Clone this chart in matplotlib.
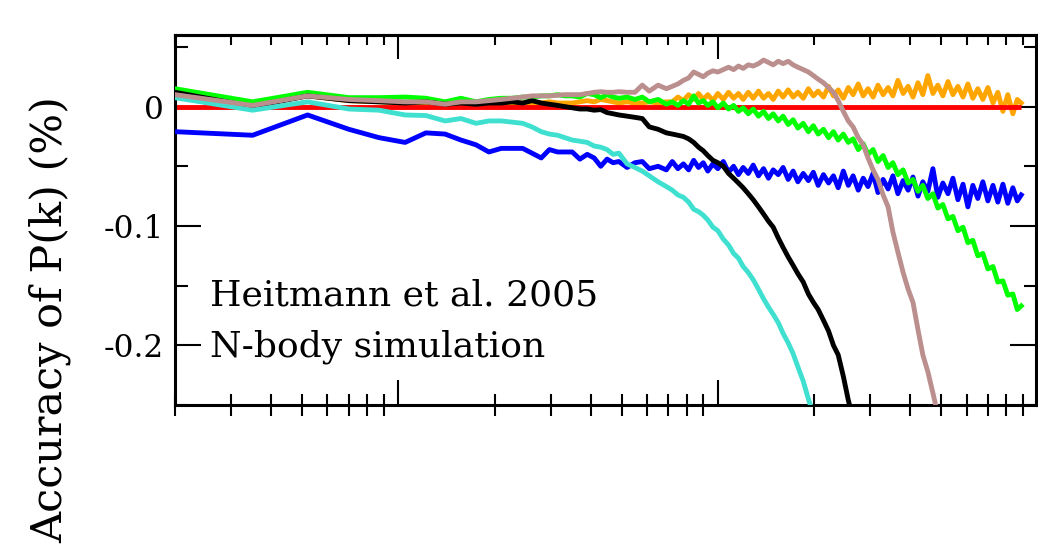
import matplotlib
matplotlib.use("Agg")
import matplotlib.pyplot as plt
from matplotlib.ticker import MultipleLocator, LogLocator, NullFormatter
import numpy as np

plt.rcParams["font.family"] = ["DejaVu Serif"]

# k grid (h/Mpc): sparse bins at low k, finer at high k
k = [0.02, 0.035, 0.052, 0.07, 0.087, 0.105, 0.122, 0.14, 0.157, 0.175,
     0.192, 0.21, 0.227, 0.245, 0.262, 0.28, 0.297, 0.315, 0.332, 0.35,
     0.37, 0.39, 0.41, 0.43, 0.45, 0.47, 0.49, 0.52, 0.55, 0.58,
     0.61, 0.65, 0.69,
     0.72, 0.75, 0.78, 0.81, 0.84, 0.87, 0.9, 0.93, 0.965, 1.0,
     1.04, 1.08, 1.12, 1.16, 1.2, 1.245, 1.29, 1.34, 1.39, 1.44,
     1.49, 1.545, 1.6, 1.66, 1.72, 1.78, 1.85, 1.92, 1.99, 2.06,
     2.14, 2.22, 2.3, 2.38, 2.47, 2.56, 2.65, 2.75, 2.85, 2.95,
     3.06, 3.17, 3.29, 3.41, 3.53, 3.66, 3.8, 3.94, 4.08, 4.23,
     4.38, 4.54, 4.71, 4.88, 5.06, 5.25, 5.44, 5.64, 5.85, 6.06,
     6.28, 6.51, 6.75, 7.0, 7.26, 7.52, 7.8, 8.08, 8.38, 8.65,
     8.9]

orange = [0.0125, 0.002, 0.009, 0.005, 0.004, 0.003, 0.003, 0.002, 0.003, 0.002,
          0.002, 0.002, 0.002, 0.003, 0.003, 0.003, 0.004, 0.003, 0.003, 0.003,
          0.004, 0.005, 0.004, 0.006, 0.005, 0.004, 0.003, 0.004, 0.003, 0.003,
          0.004, 0.003, 0.004,
          0.004, 0.008, 0.005, 0.010, 0.006, 0.011, 0.006, 0.010, 0.005, 0.011,
          0.006, 0.012, 0.007, 0.011, 0.006, 0.012, 0.007, 0.013, 0.007, 0.011,
          0.006, 0.013, 0.008, 0.014, 0.008, 0.012, 0.007, 0.015, 0.009, 0.013,
          0.008, 0.017, 0.009, 0.014, 0.007, 0.016, 0.010, 0.019, 0.009, 0.015,
          0.008, 0.018, 0.010, 0.016, 0.009, 0.022, 0.011, 0.017, 0.008, 0.020,
          0.010, 0.026, 0.011, 0.018, 0.009, 0.021, 0.010, 0.017, 0.008, 0.019,
          0.007, 0.015, 0.006, 0.016, 0.003, 0.012, -0.004, 0.010, -0.006, 0.006,
          0.003]

blue = [-0.021, -0.024, -0.007, -0.019, -0.026, -0.030, -0.022, -0.023, -0.028, -0.032,
        -0.038, -0.035, -0.035, -0.035, -0.039, -0.043, -0.036, -0.038, -0.038, -0.038,
        -0.044, -0.040, -0.043, -0.050, -0.044, -0.047, -0.046, -0.051, -0.047, -0.046,
        -0.052, -0.050, -0.053,
        -0.046, -0.052, -0.048, -0.053, -0.045, -0.051, -0.047, -0.054, -0.048, -0.052,
        -0.046, -0.055, -0.050, -0.057, -0.051, -0.056, -0.049, -0.058, -0.052, -0.060,
        -0.053, -0.057, -0.051, -0.061, -0.054, -0.063, -0.056, -0.062, -0.055, -0.066,
        -0.057, -0.064, -0.058, -0.068, -0.054, -0.066, -0.058, -0.070, -0.060, -0.067,
        -0.056, -0.072, -0.061, -0.069, -0.058, -0.073, -0.062, -0.070, -0.059, -0.075,
        -0.063, -0.071, -0.052, -0.076, -0.064, -0.073, -0.060, -0.078, -0.065, -0.084,
        -0.066, -0.077, -0.063, -0.079, -0.066, -0.080, -0.065, -0.081, -0.068, -0.079,
        -0.074]

green = [0.015, 0.004, 0.012, 0.0075, 0.0075, 0.008, 0.007, 0.004, 0.007, 0.004,
         0.006, 0.007, 0.007, 0.008, 0.008, 0.009, 0.009, 0.010, 0.009, 0.009,
         0.008, 0.011, 0.010, 0.0075, 0.010, 0.008, 0.007, 0.008, 0.006, 0.008,
         0.004, 0.006, 0.002,
         0.004, 0.001, 0.005, 0.002, 0.009, 0.003, 0.005, 0.001, 0.004, -0.001,
         0.003, -0.002, 0.001, -0.004, -0.001, -0.006, -0.002, -0.008, -0.004, -0.010,
         -0.006, -0.012, -0.008, -0.015, -0.011, -0.018, -0.014, -0.021, -0.016, -0.023,
         -0.019, -0.026, -0.021, -0.028, -0.023, -0.030, -0.027, -0.036, -0.031, -0.040,
         -0.036, -0.046, -0.041, -0.051, -0.047, -0.057, -0.053, -0.064, -0.061, -0.071,
         -0.066, -0.077, -0.073, -0.085, -0.082, -0.094, -0.092, -0.104, -0.101, -0.114,
         -0.112, -0.125, -0.123, -0.136, -0.134, -0.147, -0.146, -0.158, -0.157, -0.170,
         -0.167]

black = [0.012, 0.000, 0.009, 0.005, 0.004, 0.003, 0.004, 0.002, 0.003, 0.002,
         0.003, 0.003, 0.004, 0.003, 0.005, 0.003, 0.002, 0.001, 0.000, -0.001,
         -0.002, -0.002, -0.003, -0.0025, -0.005, -0.006, -0.007, -0.008, -0.009, -0.010,
         -0.017, -0.019, -0.022,
         -0.023, -0.024, -0.025, -0.027, -0.030, -0.034, -0.037, -0.041, -0.045, -0.047,
         -0.050, -0.056, -0.060, -0.064, -0.068, -0.073, -0.078, -0.084, -0.090, -0.096,
         -0.101, -0.110, -0.118, -0.126, -0.133, -0.140, -0.147, -0.157, -0.164, -0.170,
         -0.179, -0.188, -0.200, -0.208, -0.226, -0.246, -0.262]

cyan = [0.0075, -0.003, 0.004, -0.002, -0.003, -0.007, -0.0075, -0.012, -0.010, -0.014,
        -0.012, -0.012, -0.013, -0.014, -0.017, -0.021, -0.023, -0.024, -0.026, -0.028,
        -0.029, -0.030, -0.033, -0.034, -0.036, -0.040, -0.039, -0.048, -0.051, -0.054,
        -0.058, -0.063, -0.067,
        -0.070, -0.074, -0.076, -0.080, -0.086, -0.088, -0.091, -0.095, -0.101, -0.104,
        -0.111, -0.116, -0.123, -0.127, -0.134, -0.139, -0.145, -0.153, -0.161, -0.168,
        -0.174, -0.181, -0.190, -0.198, -0.207, -0.218, -0.230, -0.245, -0.258]

brown = [0.010, 0.001, 0.009, 0.006, 0.005, 0.004, 0.004, 0.002, 0.004, 0.004,
         0.005, 0.006, 0.007, 0.008, 0.009, 0.009, 0.009, 0.0095, 0.010, 0.010,
         0.010, 0.011, 0.012, 0.0125, 0.012, 0.012, 0.0125, 0.012, 0.012, 0.018,
         0.013, 0.018, 0.015,
         0.017, 0.019, 0.022, 0.024, 0.029, 0.027, 0.025, 0.028, 0.030, 0.029,
         0.031, 0.033, 0.031, 0.034, 0.032, 0.035, 0.034, 0.036, 0.039, 0.037,
         0.035, 0.038, 0.036, 0.038, 0.035, 0.033, 0.031, 0.029, 0.026, 0.023,
         0.020, 0.016, 0.012, 0.005, -0.004, -0.012, -0.017, -0.026, -0.032, -0.043,
         -0.053, -0.061, -0.074, -0.084, -0.105, -0.122, -0.139, -0.153, -0.164, -0.187,
         -0.208, -0.222, -0.240, -0.258]

fig = plt.figure(figsize=(10.38, 5.52), dpi=100)
ax = fig.add_axes([175 / 1038, 147 / 552, 861 / 1038, 370 / 552])

lw = 3.5
ax.plot(k, orange, color="orange", lw=lw, zorder=1)
ax.hlines(0, k[0], k[-1], color="red", lw=lw, zorder=2)
ax.plot(k, blue, color="blue", lw=lw, zorder=3)
ax.plot(k, green, color="lime", lw=lw, zorder=4)
ax.plot(k[:len(black)], black, color="black", lw=lw, zorder=5)
ax.plot(k[:len(cyan)], cyan, color="turquoise", lw=lw, zorder=6)
ax.plot(k[:len(brown)], brown, color="rosybrown", lw=lw, zorder=7)

ax.set_xscale("log")
ax.set_xlim(0.02, 9.9)
ax.set_ylim(-0.25, 0.06)

ax.yaxis.set_minor_locator(MultipleLocator(0.05))
ax.set_yticks([0, -0.1, -0.2])
ax.set_yticklabels(["0", "-0.1", "-0.2"])
ax.tick_params(axis="y", which="major", direction="in", length=19, width=1.5,
               right=True, labelsize=22.5, pad=8)
ax.tick_params(axis="y", which="minor", direction="in", length=9, width=1.5,
               right=True)

ax.xaxis.set_major_locator(LogLocator(base=10))
ax.xaxis.set_minor_locator(LogLocator(base=10, subs=np.arange(2, 10)))
ax.xaxis.set_major_formatter(NullFormatter())
ax.xaxis.set_minor_formatter(NullFormatter())
ax.tick_params(axis="x", which="major", direction="in", length=18, width=1.5)
ax.tick_params(axis="x", which="minor", direction="inout", length=16, width=1.5)

top = ax.secondary_xaxis("top")
top.xaxis.set_minor_locator(LogLocator(base=10, subs=np.arange(2, 10)))
top.xaxis.set_major_formatter(NullFormatter())
top.xaxis.set_minor_formatter(NullFormatter())
top.tick_params(axis="x", which="major", direction="in", length=17, width=1.5)
top.tick_params(axis="x", which="minor", direction="in", length=7, width=1.5)

for s in list(ax.spines.values()) + list(top.spines.values()):
    s.set_linewidth(2.2)

fig.text(210 / 1038, 1 - 305 / 552, "Heitmann et al. 2005", fontsize=26, va="baseline")
fig.text(210 / 1038, 1 - 357 / 552, "N-body simulation", fontsize=26, va="baseline")
fig.text(50 / 1038, 1 - 320 / 552, "Accuracy of P(k) (%)", fontsize=31,
         rotation=90, ha="center", va="center")

fig.savefig("out.png", dpi=100)
